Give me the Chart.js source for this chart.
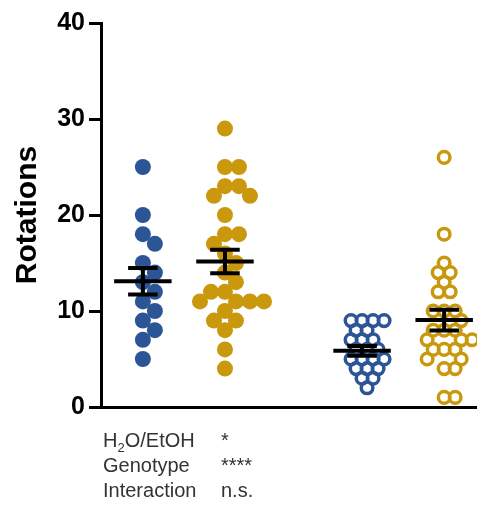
<!DOCTYPE html>
<html>
<head>
<meta charset="utf-8">
<script src="https://cdn.jsdelivr.net/npm/chart.js@4.4.0/dist/chart.umd.min.js"></script>
<style>
  html, body { margin: 0; padding: 0; background: #fff; overflow: hidden; }
  #wrap { position: relative; width: 477px; height: 505px; }
  #chart { display: block; }
  #stats { position: absolute; left: 103px; top: 428px; font-family: "Liberation Sans", Arial, sans-serif;
           font-size: 20px; line-height: 25px; color: #333; }
  #stats .row { white-space: nowrap; }
  #stats .lab { display: inline-block; width: 118px; }
  #stats sub { font-size: 13px; vertical-align: -5px; line-height: 0; }
</style>
</head>
<body>
<div id="wrap">
  <canvas id="chart" width="477" height="505"></canvas>
  <div id="stats">
    <div class="row"><span class="lab">H<sub>2</sub>O/EtOH</span>*</div>
    <div class="row"><span class="lab">Genotype</span>****</div>
    <div class="row"><span class="lab">Interaction</span>n.s.</div>
  </div>
</div>
<script>
// Rotations per animal
const wtWater    = [25, 20, 18, 17, 15, 14, 13, 12, 11, 10, 9, 8, 7, 5];
const wtEthanol  = [29, 25, 25, 23, 23, 22, 22, 20, 18, 18, 17, 16, 15, 14, 13, 12, 12, 11, 11, 11, 11, 10, 9, 9, 8, 6, 4];
const mutWater   = [9, 9, 9, 9, 8, 8, 7, 7, 7, 6, 6, 6, 5, 5, 5, 5, 4, 4, 4, 3, 3, 2];
const mutEthanol = [26, 18, 15, 14, 14, 13, 12, 12, 10, 10, 10, 9, 8, 8, 8, 7, 7, 7, 6, 6, 6, 5, 5, 4, 4, 1, 1];

// mean +/- SEM per group
const groupMeans = [13.1, 15.15, 5.85, 9.05];
const groupSem   = [1.37, 1.22, 0.5, 1.07];
const groupPos   = [1, 2, 3.67, 4.67];

const yTicks = [0, 10, 20, 30, 40];

const BLUE = '#2c5596';
const GOLD = '#c9980d';

const meanBars = {
    id: 'meanBars',
    afterDatasetsDraw(chart) {
        const { ctx, scales: { x, y } } = chart;
        ctx.save();
        ctx.strokeStyle = '#000';
        ctx.lineWidth = 4;
        groupPos.forEach((pos, i) => {
            const cx = x.getPixelForValue(pos);
            const wide = x.getPixelForValue(pos + 0.35) - cx;
            const cap = x.getPixelForValue(pos + 0.18) - cx;
            const m = y.getPixelForValue(groupMeans[i]);
            const hi = y.getPixelForValue(groupMeans[i] + groupSem[i]);
            const lo = y.getPixelForValue(groupMeans[i] - groupSem[i]);
            ctx.beginPath();
            ctx.moveTo(cx - wide, m); ctx.lineTo(cx + wide, m);
            ctx.moveTo(cx, hi); ctx.lineTo(cx, lo);
            ctx.moveTo(cx - cap, hi); ctx.lineTo(cx + cap, hi);
            ctx.moveTo(cx - cap, lo); ctx.lineTo(cx + cap, lo);
            ctx.stroke();
        });
        ctx.restore();
    }
};

function dataset(values, pos, color, open) {
    return {
        data: values.map(v => ({ x: pos, y: v })),
        backgroundColor: open ? 'rgba(0,0,0,0)' : color,
        borderColor: color,
        borderWidth: open ? 3.5 : 0,
        pointRadius: open ? 5.8 : 8,
        pointHoverRadius: open ? 5.8 : 8
    };
}

const FONT = '"Liberation Sans", Arial, Helvetica, sans-serif';

const chart = new Chart(document.getElementById('chart'), {
    type: 'scatter',
    data: {
        datasets: [
            dataset(wtWater, groupPos[0], BLUE, false),
            dataset(wtEthanol, groupPos[1], GOLD, false),
            dataset(mutWater, groupPos[2], BLUE, true),
            dataset(mutEthanol, groupPos[3], GOLD, true)
        ]
    },
    options: {
        responsive: false,
        animation: false,
        clip: false,
        layout: { autoPadding: false, padding: { top: 23, right: 0, bottom: 98, left: 0 } },
        plugins: { legend: { display: false }, tooltip: { enabled: false } },
        scales: {
            x: {
                type: 'linear', min: 0.49, max: 5.07,
                ticks: { display: false },
                grid: { display: false, drawTicks: false },
                border: { display: true, width: 3, color: '#000' },
                afterFit(scale) {
                    scale.height = 0;
                    scale.paddingLeft = 0;
                    scale.paddingRight = 0;
                }
            },
            y: {
                min: 0, max: 40,
                afterBuildTicks(scale) { scale.ticks = yTicks.map(v => ({ value: v })); },
                ticks: { color: '#000', font: { family: FONT, size: 25, weight: 'bold' }, padding: 4 },
                grid: { drawOnChartArea: false, tickLength: 12, tickWidth: 3, tickColor: '#000' },
                border: { display: true, width: 3, color: '#000' },
                title: { display: true, text: 'Rotations', color: '#000',
                         font: { family: FONT, size: 30, weight: 'bold' }, padding: { top: 10, bottom: 0 } },
                afterFit(scale) { scale.width = 101; }
            }
        }
    },
    plugins: [meanBars]
});

// spread equal / close values sideways like a column scatter
function swarm(values, pos, diam) {
    const xs = chart.scales.x, ys = chart.scales.y;
    const cx = xs.getPixelForValue(pos);
    const placed = [];
    return values.map(v => {
        const py = ys.getPixelForValue(v);
        let px = cx;
        for (let k = 0; k < 400; k++) {
            const off = (k % 2 ? 1 : -1) * Math.ceil(k / 2);
            const tx = cx + off;
            const hit = placed.some(p => (p.x - tx) ** 2 + (p.y - py) ** 2 < diam * diam);
            if (!hit) { px = tx; break; }
        }
        placed.push({ x: px, y: py });
        return { x: xs.getValueForPixel(px), y: v };
    });
}

chart.data.datasets[0].data = swarm(wtWater, groupPos[0], 15);
chart.data.datasets[1].data = swarm(wtEthanol, groupPos[1], 14);
chart.data.datasets[2].data = swarm(mutWater, groupPos[2], 10.5);
chart.data.datasets[3].data = swarm(mutEthanol, groupPos[3], 11);
chart.update('none');
</script>
</body>
</html>
